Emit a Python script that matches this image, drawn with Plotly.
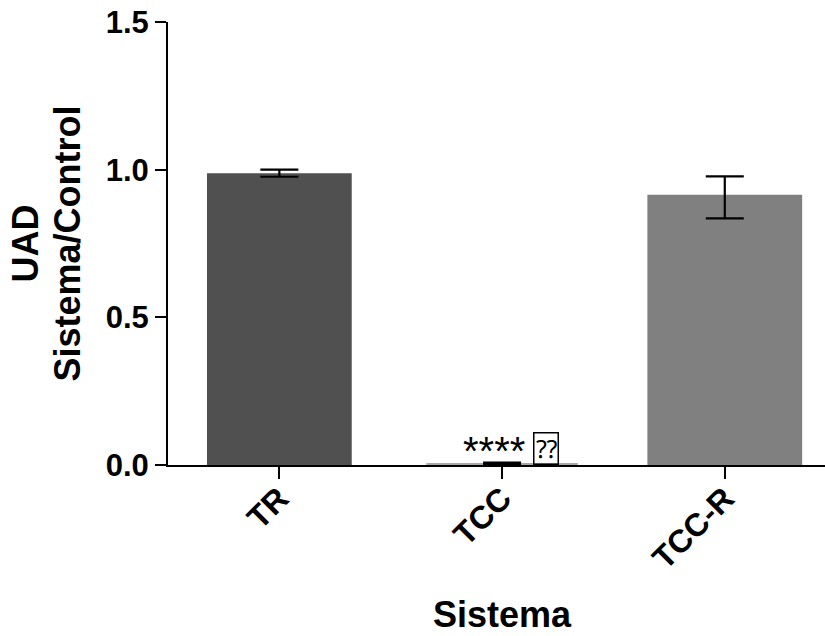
import plotly.graph_objects as go

categories = ["TR", "TCC", "TCC-R"]
values = [0.988, 0.006, 0.915]
err_plus = [0.012, 0.002, 0.062]
err_minus = [0.012, 0.002, 0.080]
bar_colors = ["#505050", "#a8a8a8", "#808080"]
y_ticks = [0.0, 0.5, 1.0, 1.5]
y_tick_labels = ["0.0", "0.5", "1.0", "1.5"]
sig_label = "****"

FONT = "Liberation Sans, Arial, sans-serif"

fig = go.Figure()
fig.add_trace(go.Bar(
    x=categories, y=values,
    marker=dict(color=bar_colors, line=dict(width=0)),
    width=[0.65, 0.68, 0.695],
    error_y=dict(type="data", symmetric=False, array=err_plus, arrayminus=err_minus,
                 color="black", thickness=2.2, width=19),
    showlegend=False,
))

fig.update_layout(
    width=825, height=636,
    margin=dict(l=168, r=0, t=22, b=171),
    plot_bgcolor="white", paper_bgcolor="white",
    font=dict(family=FONT, color="black"),
    xaxis=dict(
        range=[-0.5, 2.45], showline=True, linecolor="black", linewidth=2,
        ticks="outside", ticklen=12, tickwidth=2, tickcolor="black",
        tickangle=-45, showgrid=False, zeroline=False,
        ticklabelstandoff=-12,
        tickfont=dict(size=32, family=FONT, weight="bold"),
    ),
    yaxis=dict(
        range=[0, 1.5], showline=True, linecolor="black", linewidth=2,
        ticks="outside", ticklen=11, tickwidth=2, tickcolor="black",
        tickvals=y_ticks, ticktext=y_tick_labels,
        showgrid=False, zeroline=False,
        tickfont=dict(size=31, family=FONT, weight="bold"),
    ),
)

# y-axis title (two lines)
fig.add_annotation(xref="paper", yref="paper", x=0, y=0.5, xshift=-143,
                   text="<b>UAD</b>", textangle=-90, showarrow=False,
                   font=dict(size=36, family=FONT), xanchor="center", yanchor="middle")
fig.add_annotation(xref="paper", yref="paper", x=0, y=0.5, xshift=-101,
                   text="<b>Sistema/Control</b>", textangle=-90, showarrow=False,
                   font=dict(size=36, family=FONT), xanchor="center", yanchor="middle")

# x-axis title
fig.add_annotation(x="TCC", xref="x", yref="paper", y=0, yshift=-127,
                   text="<b>Sistema</b>", showarrow=False,
                   xanchor="center", yanchor="top",
                   font=dict(size=36, family=FONT))

# significance marker
fig.add_annotation(x="TCC", y=values[1], text=sig_label, showarrow=False,
                   xanchor="center", yanchor="bottom", xshift=-8, yshift=-12,
                   font=dict(size=40, family=FONT))
fig.add_annotation(x="TCC", y=values[1], text="⁇", showarrow=False,
                   xanchor="left", yanchor="bottom", xshift=31, yshift=-2,
                   bordercolor="black", borderwidth=1.5, borderpad=1,
                   font=dict(size=25, family=FONT))

fig.write_html("out.html", config={"displayModeBar": False},
               post_script="document.body.style.margin='0px';")
